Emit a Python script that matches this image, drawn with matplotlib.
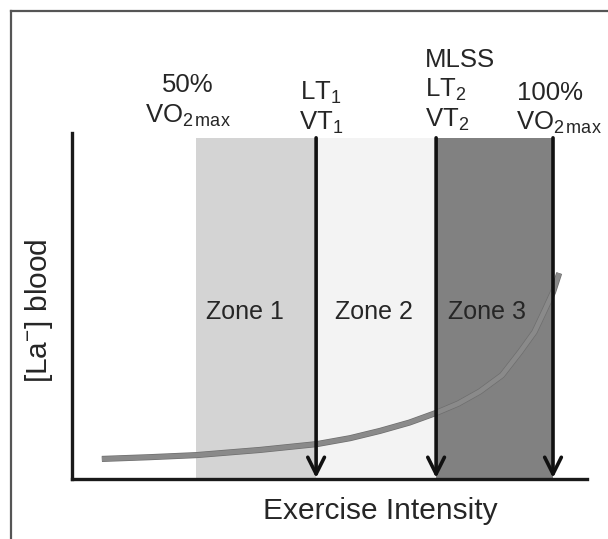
import matplotlib
matplotlib.use('Agg')
import matplotlib.pyplot as plt
import matplotlib.patheffects as pe
from matplotlib.lines import Line2D

plt.rcParams['font.family'] = ['Liberation Sans', 'DejaVu Sans']
plt.rcParams['mathtext.fontset'] = 'custom'
plt.rcParams['mathtext.rm'] = 'Liberation Sans'
plt.rcParams['mathtext.it'] = 'Liberation Sans'
plt.rcParams['mathtext.default'] = 'regular'

# exercise intensity (% of axis) where the zones start / end
zone_edges = [24.1, 47.4, 70.7, 93.4]
zone_names = ['Zone 1', 'Zone 2', 'Zone 3']
zone_colors = ['#d4d4d4', '#f3f3f3', '#818181']
zone_top = 98.6

# blood lactate curve
curve_x = [5.8, 15.0, 24.1, 36.5, 47.6, 54.0, 59.8, 65.5, 70.7, 75.0, 79.2, 83.5, 87.0, 89.8, 91.8, 93.4, 94.6]
curve_y = [5.8, 6.3, 6.9, 8.4, 10.1, 11.8, 13.9, 16.3, 19.1, 21.8, 25.3, 30.0, 36.7, 42.5, 48.8, 54.0, 59.5]

W, H = 608, 539


def px(x, y):
    return x / W, 1 - y / H


fig = plt.figure(figsize=(W / 100, H / 100), dpi=100)
ax = fig.add_axes([72 / W, 1 - 479 / H, (587 - 72) / W, (479 - 133) / H])
ax.set_xlim(0, 100)
ax.set_ylim(0, 100)

for i, name in enumerate(zone_names):
    ax.axvspan(zone_edges[i], zone_edges[i + 1], ymin=0, ymax=zone_top / 100,
               color=zone_colors[i], lw=0, zorder=1)

# thin darker rim so the curve still reads on the dark zone
ax.plot(curve_x, curve_y, color='#8a8a8a', lw=3.4, solid_capstyle='butt', zorder=3,
        path_effects=[pe.Stroke(linewidth=4.4, foreground='#6e6e6e'), pe.Normal()])

for xe in zone_edges[1:]:
    ax.annotate('', xy=(xe, 0.3), xytext=(xe, zone_top),
                arrowprops=dict(arrowstyle='->', lw=2.6, color='#111111',
                                mutation_scale=30, shrinkA=0, shrinkB=0),
                zorder=4)

for sp in ['top', 'right']:
    ax.spines[sp].set_visible(False)
for sp in ['left', 'bottom']:
    ax.spines[sp].set_linewidth(2.4)
    ax.spines[sp].set_color('#1a1a1a')
ax.set_xticks([])
ax.set_yticks([])
ax.patch.set_alpha(0)

tc = '#262626'
zone_lbl_x = [245, 374, 487]
for name, zx in zip(zone_names, zone_lbl_x):
    fig.text(*px(zx, 319), name, ha='center', va='baseline', fontsize=18, color=tc)

# labels above the zone borders
fs = 18.5
fig.text(*px(188, 92), '50%', ha='center', va='baseline', fontsize=fs, color=tc)
fig.text(*px(188, 123), r'VO$_{2\,max}$', ha='center', va='baseline', fontsize=fs, color=tc)
fig.text(*px(300, 100), r'LT$_1$', ha='left', va='baseline', fontsize=fs, color=tc)
fig.text(*px(299, 130), r'VT$_1$', ha='left', va='baseline', fontsize=fs, color=tc)
fig.text(*px(425, 67), 'MLSS', ha='left', va='baseline', fontsize=fs, color=tc)
fig.text(*px(425, 97), r'LT$_2$', ha='left', va='baseline', fontsize=fs, color=tc)
fig.text(*px(425, 127), r'VT$_2$', ha='left', va='baseline', fontsize=fs, color=tc)
fig.text(*px(517, 100), '100%', ha='left', va='baseline', fontsize=fs, color=tc)
fig.text(*px(516, 130), r'VO$_{2\,max}$', ha='left', va='baseline', fontsize=fs, color=tc)

fig.text(*px(380, 519), 'Exercise Intensity', ha='center', va='baseline', fontsize=21.5, color=tc)
fig.text(*px(39, 311), r'[La$^{-}$] blood', ha='center', va='center', rotation=90,
         fontsize=21.5, color=tc)

# outer frame (cut off on the right and bottom)
fig.add_artist(Line2D([11 / W, 11 / W], [0, 1 - 11 / H], color='#555555', lw=1.6))
fig.add_artist(Line2D([11 / W, 1], [1 - 11 / H, 1 - 11 / H], color='#555555', lw=1.6))

fig.savefig('out.png', dpi=100)
